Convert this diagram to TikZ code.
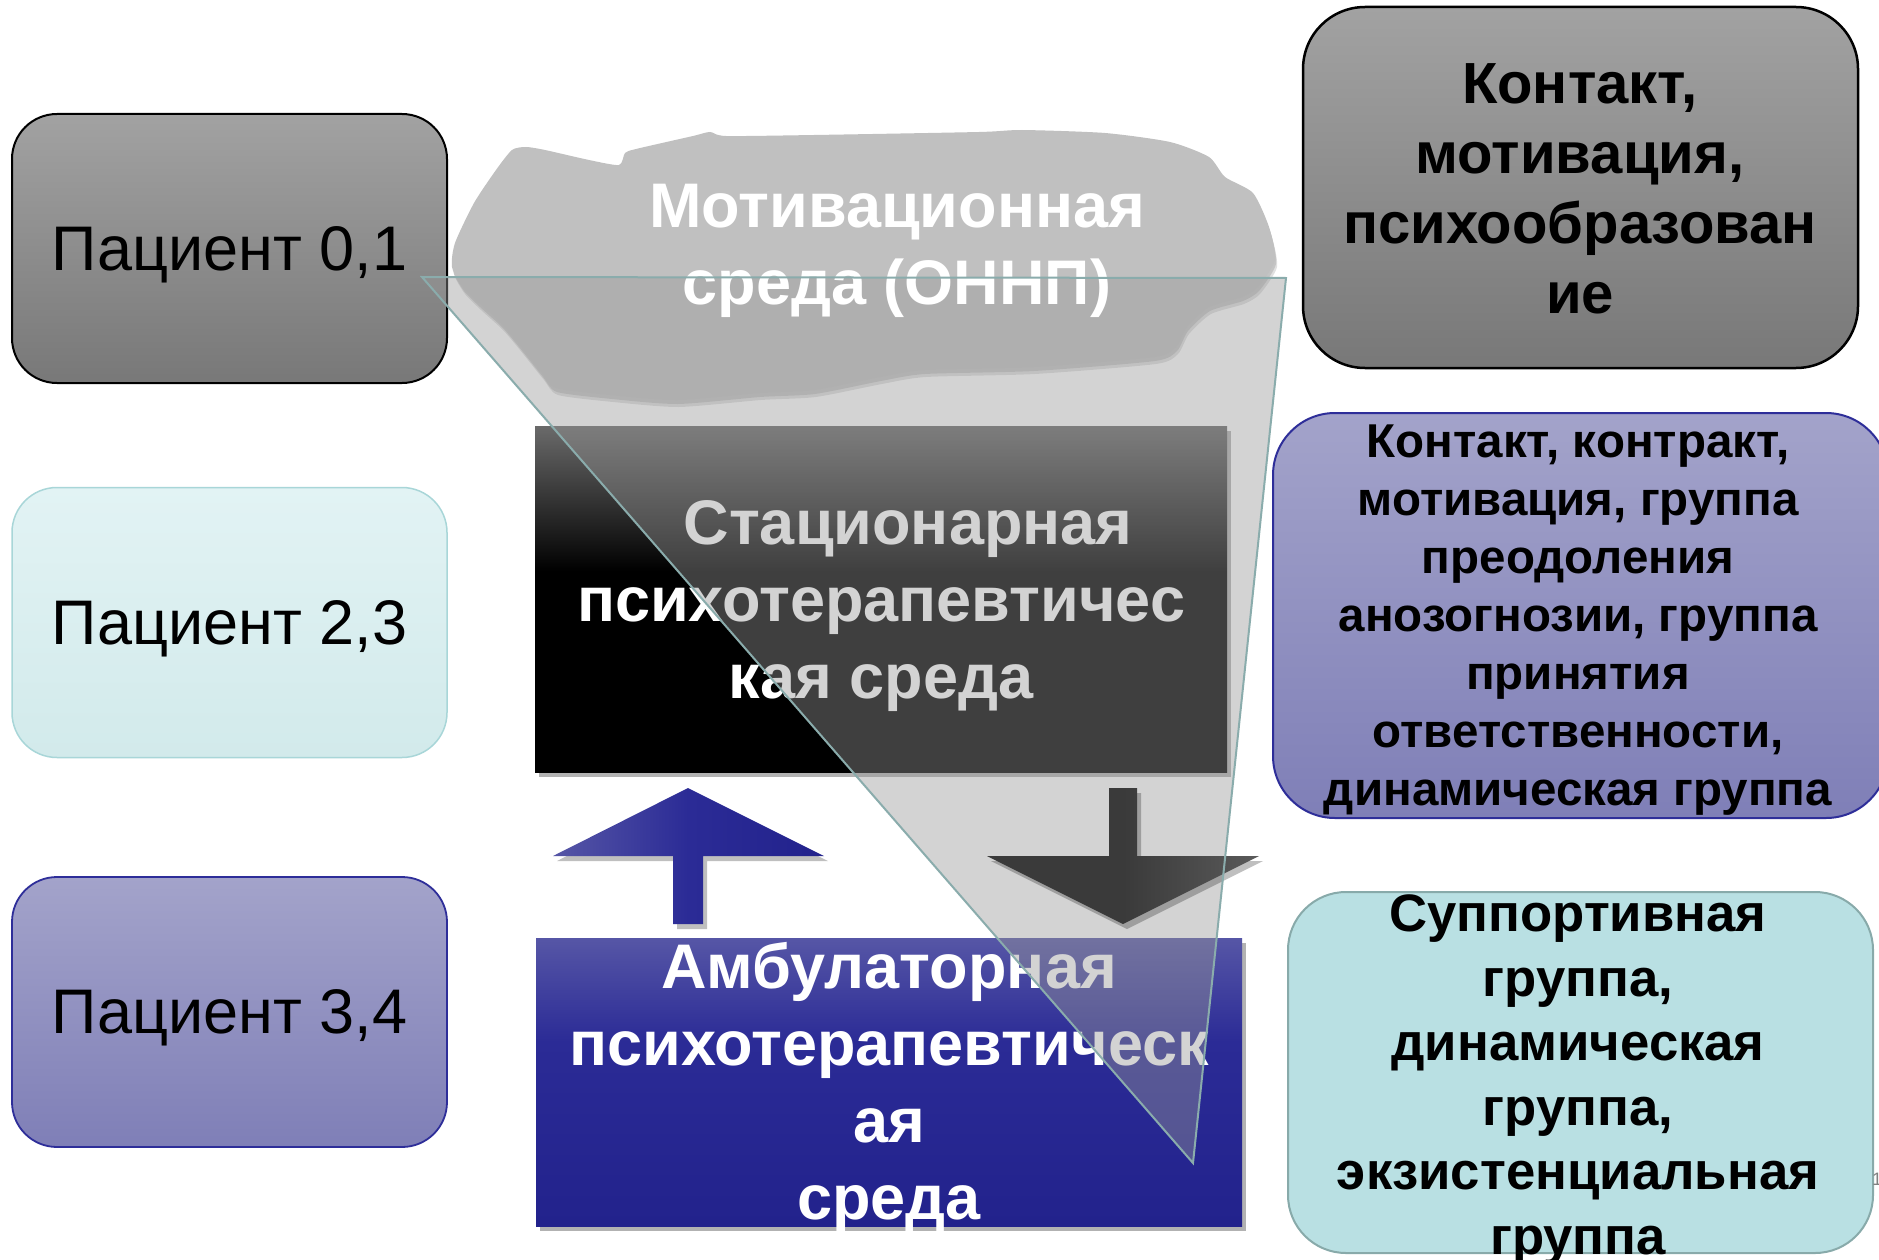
\documentclass[tikz,border=0pt]{standalone}
\usepackage{fontspec}
\setmainfont{Liberation Sans}
\usetikzlibrary{shadows}
\definecolor{grTop}{HTML}{A2A2A2}
\definecolor{grBot}{HTML}{787878}
\definecolor{cyTop}{HTML}{E2F3F4}
\definecolor{cyBot}{HTML}{D2EAEB}
\definecolor{cyLine}{HTML}{A8D6D8}
\definecolor{puTop}{HTML}{A3A3CA}
\definecolor{puBot}{HTML}{7F7FB7}
\definecolor{puLine}{HTML}{2E2E99}
\definecolor{tlFill}{HTML}{B9E0E3}
\definecolor{tlLine}{HTML}{88AAAA}
\definecolor{cloudC}{HTML}{C0C0C0}
\definecolor{ambTop}{HTML}{5656A6}
\definecolor{ambMid}{HTML}{2B2B96}
\definecolor{ambBot}{HTML}{22228C}
\definecolor{statTop}{HTML}{6A6A6A}
\definecolor{overC}{HTML}{989898}
\definecolor{triLine}{HTML}{8AACAC}
\definecolor{darrL}{HTML}{3A3A3A}
\definecolor{darrR}{HTML}{5A5A5A}
\pgfdeclareverticalshading{statshade}{100bp}{color(0bp)=(black); color(25bp)=(black); color(54bp)=(black); color(75bp)=(statTop); color(100bp)=(statTop)}
\pgfdeclareverticalshading{ambshade}{100bp}{color(0bp)=(ambBot); color(25bp)=(ambBot); color(57bp)=(ambMid); color(75bp)=(ambTop); color(100bp)=(ambTop)}
\begin{document}
\begin{tikzpicture}[x=1pt,y=-1pt,
  boxbase/.style={inner sep=0pt, outer sep=0pt},
  graybox/.style={boxbase, draw=black, line width=2pt, top color=grTop, bottom color=grBot},
  cyanbox/.style={boxbase, draw=cyLine, line width=1.5pt, top color=cyTop, bottom color=cyBot},
  purplebox/.style={boxbase, draw=puLine, line width=1.8pt, top color=puTop, bottom color=puBot},
  tealbox/.style={boxbase, draw=tlLine, line width=2pt, fill=tlFill},
  pattext/.style={inner sep=0pt, align=center, text=black, font=\fontsize{63}{76}\selectfont},
  midtext/.style={inner sep=0pt, align=center, text=white, font=\bfseries\fontsize{63}{77}\selectfont},
  blockshadow/.style={drop shadow={shadow xshift=4pt, shadow yshift=-5pt, opacity=0.3, fill=black}}
]
\useasboundingbox (0,0) rectangle (1879,1260);
\fill[white] (0,0) rectangle (1879,1260);

% cloud
\def\cloudpts{(452,267) (455,243) (474,203) (496,170) (512,150) (526,147) (545,150) (589,160) (619,165) (625,153) (636,149) (693,136) (710,132) (726,136) (814,135) (979,132) (1022,130) (1105,133) (1170,142) (1209,157) (1225,177) (1253,193) (1269,227) (1275,260) (1258,287) (1242,297) (1209,307) (1187,327) (1176,347) (1154,357) (1033,367) (924,370) (880,377) (814,390) (759,393) (677,400) (611,395) (556,388) (542,373) (518,343) (501,323) (479,303) (463,287)}
\fill[black, opacity=0.12, shift={(2,7)}] plot[smooth cycle, tension=0.4] coordinates {\cloudpts};
\fill[black, opacity=0.12, shift={(1,4)}] plot[smooth cycle, tension=0.4] coordinates {\cloudpts};
\fill[cloudC] plot[smooth cycle, tension=0.4] coordinates {\cloudpts};

% left boxes
\node[graybox, rounded corners=45pt, minimum width=435pt, minimum height=269pt] (p1) at (229.5,248.5) {};
\node[pattext] (p1t) at ([yshift=-6pt]p1.center) {Пациент 0,1};
\node[cyanbox, rounded corners=45pt, minimum width=435pt, minimum height=270pt] (p2) at (229.5,622.5) {};
\node[pattext] (p2t) at ([yshift=-6pt]p2.center) {Пациент 2,3};
\node[purplebox, rounded corners=45pt, minimum width=435pt, minimum height=270pt] (p3) at (229.5,1012) {};
\node[pattext] (p3t) at ([yshift=-6pt]p3.center) {Пациент 3,4};

% right boxes
\node[graybox, line width=2.5pt, rounded corners=62pt, minimum width=555pt, minimum height=361pt] (r1) at (1580.5,187.5) {};
\node[inner sep=0pt, align=center, font=\bfseries\fontsize{58}{70}\selectfont] (r1t) at (1580,189) {Контакт,\\мотивация,\\психообразован\\ие};
\node[purplebox, line width=2pt, rounded corners=62pt, minimum width=615pt, minimum height=405pt] (r2) at (1580.5,615.5) {};
\node[inner sep=0pt, align=center, font=\bfseries\fontsize{47.5}{58}\selectfont] (r2t) at (1578,620) {Контакт, контракт,\\мотивация, группа\\преодоления\\анозогнозии, группа\\принятия\\ответственности,\\динамическая группа};
\node[tealbox, rounded corners=58pt, minimum width=585pt, minimum height=361pt] (r3) at (1580.5,1072.5) {};
\node[inner sep=0pt, align=center, font=\bfseries\fontsize{52.7}{64.6}\selectfont] (r3t) at (1578,1080) {Суппортивная\\группа,\\динамическая\\группа,\\экзистенциальная\\группа};
\node[inner sep=0pt, anchor=base west, text=gray, font=\fontsize{18}{18}\selectfont] (slidenum) at (1872,1185) {1};

% middle blocks
\node[boxbase, blockshadow, minimum width=692pt, minimum height=346pt, shade, shading=statshade] (stat) at (881,599) {};
\node[midtext] (statt) at ([yshift=-7pt]stat.center) {\hspace*{54pt}Стационарная\\психотерапевтичес\\кая среда};
\node[boxbase, blockshadow, minimum width=706pt, minimum height=288pt, shade, shading=ambshade] (amb) at (889,1082) {};
\node[midtext] (ambt) at ([yshift=-5pt]amb.center) {Амбулаторная\\психотерапевтическ\\ая\\среда};

% up block arrow
\fill[black, opacity=0.25, shift={(4,5)}] (688,788) -- (824,856) -- (703,856) -- (703,924) -- (673,924) -- (673,856) -- (553,856) -- cycle;
\shade[left color=ambTop, right color=ambBot, middle color=ambMid] (688,788) -- (824,856) -- (703,856) -- (703,924) -- (673,924) -- (673,856) -- (553,856) -- cycle;

% funnel triangle overlay
\coordinate (tA) at (422,277);
\coordinate (tB) at (1286,278);
\coordinate (tC) at (1193,1163);
\fill[overC, opacity=0.42] (tA) -- (tB) -- (tC) -- cycle;

% down block arrow
\fill[black, opacity=0.25, shift={(4,5)}] (1109,788) -- (1137,788) -- (1137,856) -- (1259,856) -- (1123,924) -- (987,856) -- (1109,856) -- cycle;
\shade[left color=darrL, right color=darrR, middle color=darrL] (1109,788) -- (1137,788) -- (1137,856) -- (1259,856) -- (1123,924) -- (987,856) -- (1109,856) -- cycle;

% cloud text
\node[midtext] (cloudtxt) at (897,251) {Мотивационная\\среда (ОННП)};

% funnel outline
\draw[triLine, line width=2pt, line join=miter] (tA) -- (tB) -- (tC) -- cycle;
\end{tikzpicture}
\end{document}
